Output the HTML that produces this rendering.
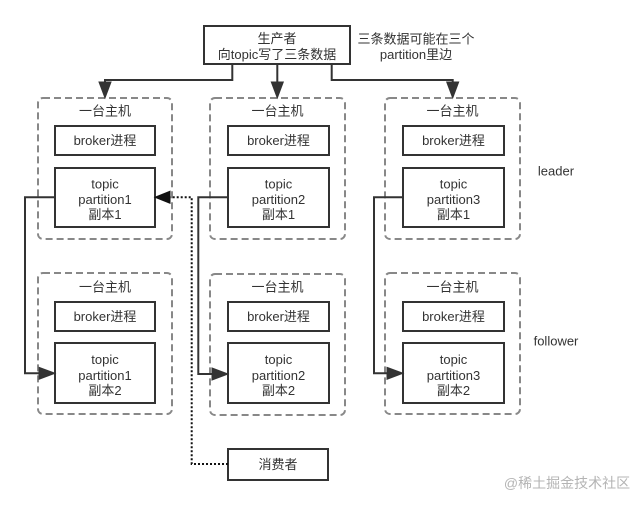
<!DOCTYPE html>
<html>
<head>
<meta charset="utf-8">
<style>
  html, body { margin:0; padding:0; background:#ffffff; }
  svg { display:block; }
  text { font-family: "Liberation Sans", "Noto Sans CJK SC", sans-serif; font-size:13px; fill:#333333; }
</style>
</head>
<body>
<svg width="642" height="505" viewBox="0 0 642 505" xmlns="http://www.w3.org/2000/svg">
  <rect x="0" y="0" width="642" height="505" fill="#ffffff"/>

  <!-- Host boxes (dashed) -->
  <g fill="none" stroke="#888888" stroke-width="2" stroke-dasharray="7 4">
    <rect x="38" y="98" width="134" height="141" rx="5"/>
    <rect x="210" y="98" width="135" height="141" rx="5"/>
    <rect x="385" y="98" width="135" height="141" rx="5"/>
    <rect x="38" y="273" width="134" height="141" rx="5"/>
    <rect x="210" y="274" width="135" height="141" rx="5"/>
    <rect x="385" y="273" width="135" height="141" rx="5"/>
  </g>

  <!-- Solid boxes -->
  <g fill="#ffffff" stroke="#333333" stroke-width="2">
    <rect x="204" y="26" width="146" height="38"/>
    <rect x="55" y="126" width="100" height="29"/>
    <rect x="228" y="126" width="101" height="29"/>
    <rect x="403" y="126" width="101" height="29"/>
    <rect x="55" y="168" width="100" height="59"/>
    <rect x="228" y="168" width="101" height="59"/>
    <rect x="403" y="168" width="101" height="59"/>
    <rect x="55" y="302" width="100" height="29"/>
    <rect x="228" y="302" width="101" height="29"/>
    <rect x="403" y="302" width="101" height="29"/>
    <rect x="55" y="343" width="100" height="60"/>
    <rect x="228" y="343" width="101" height="60"/>
    <rect x="403" y="343" width="101" height="60"/>
    <rect x="228" y="449" width="100" height="31"/>
  </g>

  <!-- Connectors -->
  <g fill="none" stroke="#333333" stroke-width="2">
    <path d="M232.3 64 V80 H105 V84"/>
    <path d="M277.3 64 V84"/>
    <path d="M331.7 64 V80 H452.7 V84"/>
    <path d="M55 197.3 H25 V373.3 H41"/>
    <path d="M228 197.3 H198.3 V374 H214"/>
    <path d="M403 197.3 H374 V373.3 H389"/>
  </g>
  <path d="M228 464 H191.7 V197.3 H169" fill="none" stroke="#111111" stroke-width="2" stroke-dasharray="2 2"/>

  <!-- Arrowheads -->
  <g fill="#333333" stroke="#333333" stroke-width="1">
    <polygon points="99,82 111,82 105,98"/>
    <polygon points="271.3,82 283.3,82 277.3,98"/>
    <polygon points="446.7,82 458.7,82 452.7,98"/>
    <polygon points="39,367.3 39,379.3 55,373.3"/>
    <polygon points="212,368 212,380 228,374"/>
    <polygon points="387,367.3 387,379.3 403,373.3"/>
  </g>
  <polygon points="170,191.3 170,203.3 155,197.3" fill="#111111" stroke="#111111" stroke-width="1"/>

  <!-- Texts -->
  <g text-anchor="middle">
    <text x="277" y="43">生产者</text>
    <text x="277" y="59">向topic写了三条数据</text>
    <text x="416" y="43.5">三条数据可能在三个</text>
    <text x="416" y="59">partition里边</text>

    <text x="105" y="115.5">一台主机</text>
    <text x="277.5" y="115.5">一台主机</text>
    <text x="452.5" y="115.5">一台主机</text>
    <text x="105" y="291.5">一台主机</text>
    <text x="277.5" y="291.5">一台主机</text>
    <text x="452.5" y="291.5">一台主机</text>

    <text x="105" y="145">broker进程</text>
    <text x="278.5" y="145">broker进程</text>
    <text x="453.5" y="145">broker进程</text>
    <text x="105" y="321">broker进程</text>
    <text x="278.5" y="321">broker进程</text>
    <text x="453.5" y="321">broker进程</text>

    <text x="105" y="188.5">topic</text>
    <text x="105" y="204">partition1</text>
    <text x="105" y="219">副本1</text>
    <text x="278.5" y="188.5">topic</text>
    <text x="278.5" y="204">partition2</text>
    <text x="278.5" y="219">副本1</text>
    <text x="453.5" y="188.5">topic</text>
    <text x="453.5" y="204">partition3</text>
    <text x="453.5" y="219">副本1</text>

    <text x="105" y="364">topic</text>
    <text x="105" y="380">partition1</text>
    <text x="105" y="395">副本2</text>
    <text x="278.5" y="364">topic</text>
    <text x="278.5" y="380">partition2</text>
    <text x="278.5" y="395">副本2</text>
    <text x="453.5" y="364">topic</text>
    <text x="453.5" y="380">partition3</text>
    <text x="453.5" y="395">副本2</text>

    <text x="278" y="469">消费者</text>

    <text x="556" y="175.5">leader</text>
    <text x="556" y="345.5">follower</text>

    <text x="567" y="488" style="fill:#b4b4b4;font-size:14px">@稀土掘金技术社区</text>
  </g>
</svg>
</body>
</html>
